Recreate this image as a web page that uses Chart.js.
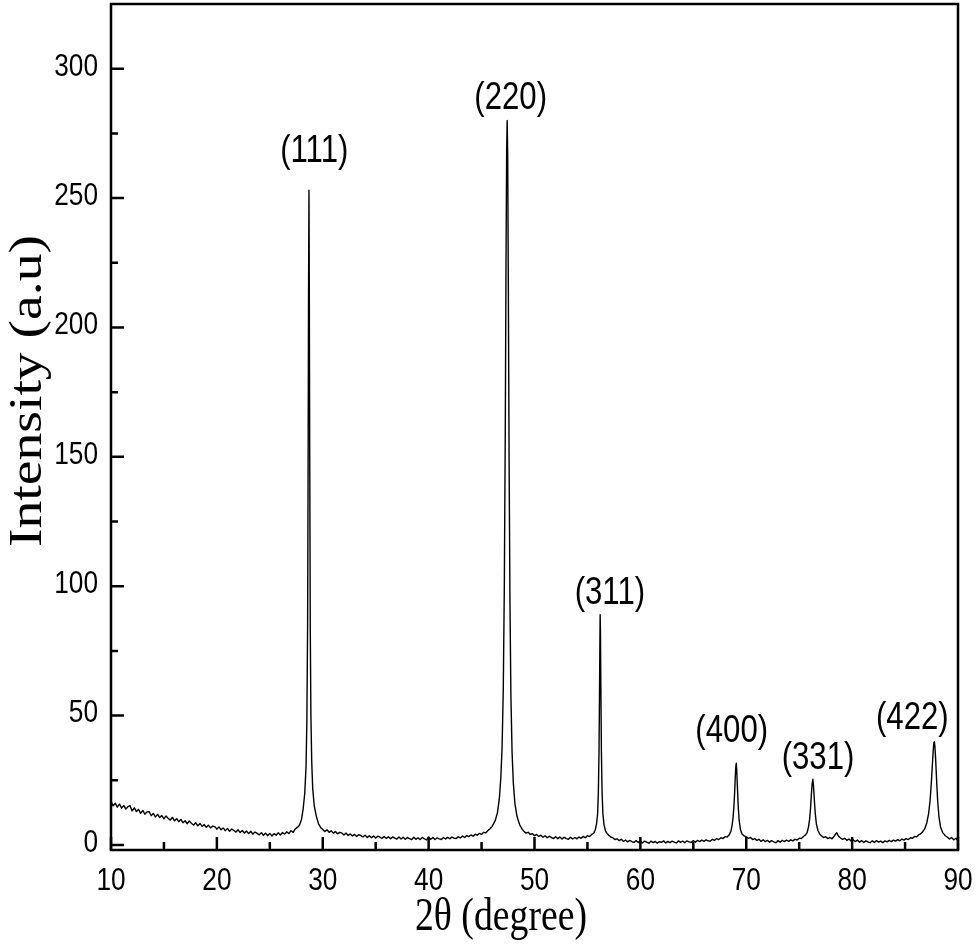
<!DOCTYPE html>
<html>
<head>
<meta charset="utf-8">
<script src="https://cdn.jsdelivr.net/npm/chart.js@4.4.1/dist/chart.umd.min.js"></script>
<style>
html,body{margin:0;padding:0;background:#fff;}
#wrap{width:977px;height:950px;}
</style>
</head>
<body>
<div id="wrap"><canvas id="c" width="977" height="950"></canvas></div>
<script>
// ---- data (2theta in degrees, intensity in a.u.) ----
const scan = [
[10.0,16.9],[10.2,15.1],[10.4,16.2],[10.6,14.6],[10.8,15.9],[11.0,14.2],[11.2,15.3],[11.4,13.9],[11.6,14.8],[11.8,15.2],
[12.0,13.1],[12.2,14.4],[12.4,12.9],[12.6,13.8],[12.8,12.2],[13.0,13.4],[13.2,11.9],[13.4,12.8],[13.6,12.9],[13.8,11.3],
[14.0,12.2],[14.2,10.8],[14.4,11.9],[14.6,10.6],[14.8,11.4],[15.0,10.1],[15.2,11.2],[15.4,10.3],[15.6,9.6],[15.8,10.7],
[16.0,9.3],[16.2,10.2],[16.4,9.0],[16.6,9.9],[16.8,8.6],[17.0,9.4],[17.2,8.2],[17.4,9.3],[17.6,8.4],[17.8,7.7],
[18.0,8.6],[18.2,7.4],[18.4,8.3],[18.6,7.2],[18.8,7.9],[19.0,6.8],[19.2,7.7],[19.4,6.6],[19.6,7.3],[19.8,7.1],
[20.0,6.1],[20.2,7.0],[20.4,5.9],[20.6,6.6],[20.8,5.5],[21.0,6.4],[21.2,5.3],[21.4,6.2],[21.6,5.6],[21.8,5.0],
[22.0,5.9],[22.2,4.8],[22.4,5.6],[22.6,4.6],[22.8,5.4],[23.0,4.4],[23.2,5.3],[23.4,4.2],[23.6,5.0],[23.8,4.5],
[24.0,3.9],[24.2,4.8],[24.4,3.7],[24.6,4.6],[24.8,3.6],[25.0,4.5],[25.2,3.5],[25.4,4.4],[25.6,3.8],[25.8,4.7],
[26.0,3.9],[26.2,4.8],[26.4,4.2],[26.6,5.1],[26.8,4.4],[27.0,5.5],[27.2,4.9],[27.4,6.2],[27.6,6.8],[27.8,7.6],
// (111)
[28.00,10],[28.15,14],[28.30,20],[28.42,30],[28.50,48],[28.57,85],[28.62,150],[28.66,215],[28.70,253],
[28.73,215],[28.77,150],[28.82,85],[28.88,50],[28.96,32],[29.05,22],[29.20,15],[29.40,11],[29.60,8.2],[29.80,6.8],
[30.0,6.0],[30.2,5.2],[30.4,5.9],[30.6,4.9],[30.8,5.5],[31.0,4.6],[31.2,5.2],[31.4,4.3],[31.6,4.9],[31.8,4.6],
[32.0,3.9],[32.2,4.6],[32.4,3.7],[32.6,4.3],[32.8,3.5],[33.0,4.1],[33.2,3.3],[33.4,4.0],[33.6,3.6],[33.8,3.1],
[34.0,3.8],[34.2,2.9],[34.4,3.6],[34.6,2.8],[34.8,3.5],[35.0,2.7],[35.2,3.4],[35.4,3.0],[35.6,2.6],[35.8,3.3],
[36.0,2.5],[36.2,3.2],[36.4,2.4],[36.6,3.1],[36.8,2.7],[37.0,2.3],[37.2,3.1],[37.4,2.3],[37.6,3.0],[37.8,2.2],
[38.0,2.9],[38.2,2.5],[38.4,2.1],[38.6,3.0],[38.8,2.2],[39.0,2.8],[39.2,2.1],[39.4,2.9],[39.6,2.4],[39.8,2.0],
[40.0,3.1],[40.2,2.2],[40.4,2.9],[40.6,2.1],[40.8,2.8],[41.0,2.4],[41.2,2.1],[41.4,2.9],[41.6,2.3],[41.8,3.0],
[42.0,2.4],[42.2,3.1],[42.4,2.6],[42.6,2.5],[42.8,3.2],[43.0,2.7],[43.2,3.5],[43.4,2.9],[43.6,3.7],[43.8,3.2],
[44.0,3.9],[44.2,3.4],[44.4,4.2],[44.6,3.8],[44.8,4.5],[45.0,4.1],[45.2,4.9],[45.4,4.7],[45.6,5.6],[45.8,6.3],
// (220)
[46.00,7.2],[46.30,9.5],[46.50,12.5],[46.68,18],[46.82,26],[46.94,38],[47.05,60],[47.15,100],[47.24,160],
[47.31,225],[47.37,268],[47.42,280],[47.47,266],[47.53,215],[47.60,150],[47.68,95],[47.77,58],[47.88,36],
[48.00,24],[48.15,16],[48.35,11],[48.60,7.8],[48.85,6.0],
[49.0,5.3],[49.2,4.6],[49.4,4.9],[49.6,4.1],[49.8,4.4],[50.0,3.6],[50.2,4.1],[50.4,3.3],[50.6,3.8],[50.8,3.0],
[51.0,3.6],[51.2,2.8],[51.4,3.4],[51.6,2.9],[51.8,2.5],[52.0,3.2],[52.2,2.4],[52.4,3.1],[52.6,2.3],[52.8,3.0],
[53.0,2.5],[53.2,2.2],[53.4,3.0],[53.6,2.3],[53.8,2.9],[54.0,2.4],[54.2,3.1],[54.4,2.6],[54.6,3.3],[54.8,2.8],
[55.0,3.6],[55.2,3.3],[55.4,4.1],[55.6,4.6],
// (311)
[55.75,6],[55.87,8.5],[55.96,12],[56.03,20],[56.09,35],[56.14,58],[56.18,80],[56.20,89],[56.23,82],
[56.27,60],[56.32,36],[56.38,21],[56.46,12],[56.56,8],[56.70,5.5],[56.85,4.5],
[57.0,3.8],[57.2,3.1],[57.4,2.8],[57.6,2.1],[57.8,2.4],[58.0,1.7],[58.2,2.2],[58.4,1.4],[58.6,1.9],[58.8,1.2],
[59.0,1.8],[59.2,1.3],[59.4,1.0],[59.6,1.7],[59.8,1.0],[60.0,1.6],[60.2,0.8],[60.4,1.5],[60.6,1.1],[60.8,0.7],
[61.0,1.5],[61.2,0.9],[61.4,1.4],[61.6,0.7],[61.8,1.3],[62.0,1.0],[62.2,1.6],[62.4,0.8],[62.6,1.4],[62.8,0.9],
[63.0,1.5],[63.2,1.1],[63.4,0.8],[63.6,1.6],[63.8,1.0],[64.0,1.5],[64.2,0.9],[64.4,1.6],[64.6,1.2],[64.8,1.0],
[65.0,1.7],[65.2,1.1],[65.4,1.8],[65.6,1.3],[65.8,1.9],[66.0,1.4],[66.2,2.0],[66.4,1.6],[66.6,1.5],[66.8,2.2],
[67.0,1.8],[67.2,2.5],[67.4,2.1],[67.6,2.8],[67.8,2.5],[68.0,3.2],[68.2,3.1],[68.4,4.0],
// (400)
[68.55,5.3],[68.66,7.5],[68.75,10.5],[68.83,14.5],[68.90,20],[68.96,26],[69.02,30.5],[69.06,31.6],[69.10,29],
[69.16,23],[69.24,15],[69.33,9.5],[69.45,6],[69.60,4.3],[69.80,3.5],
[70.0,3.2],[70.2,2.6],[70.4,2.9],[70.6,2.1],[70.8,2.5],[71.0,1.8],[71.2,2.2],[71.4,1.4],[71.6,2.0],[71.8,1.3],
[72.0,1.8],[72.2,1.1],[72.4,1.7],[72.6,1.2],[72.8,0.9],[73.0,1.7],[73.2,1.1],[73.4,1.8],[73.6,1.3],[73.8,1.9],
[74.0,1.4],[74.2,2.0],[74.4,1.6],[74.6,2.2],[74.8,1.9],[75.0,2.6],[75.2,2.5],[75.4,3.3],[75.6,3.9],
// (331)
[75.75,4.8],[75.87,6.8],[75.98,9.8],[76.07,14],[76.15,19.5],[76.22,23.5],[76.29,25.4],[76.35,23],
[76.43,17.5],[76.52,12],[76.63,8],[76.78,5.5],[76.95,4.2],
[77.1,3.6],[77.3,2.9],[77.5,3.2],[77.7,2.5],[77.9,2.9],[78.1,2.4],[78.3,3.4],[78.45,4.3],[78.55,4.7],[78.7,3.5],
[78.9,2.7],[79.1,2.2],[79.3,2.6],[79.5,1.8],[79.7,2.3],[79.9,1.5],[80.1,2.0],[80.3,1.3],[80.5,1.9],[80.7,1.1],
[80.9,1.7],[81.1,1.0],[81.3,1.6],[81.5,1.2],[81.7,0.9],[81.9,1.6],[82.1,1.0],[82.3,1.7],[82.5,1.1],[82.7,1.5],
[82.9,0.9],[83.1,1.6],[83.3,1.2],[83.5,1.8],[83.7,1.3],[83.9,1.9],[84.1,1.5],[84.3,2.1],[84.5,1.6],[84.7,2.3],
[84.9,1.9],[85.1,2.5],[85.3,2.1],[85.5,2.8],[85.7,2.6],[85.9,3.3],[86.1,3.2],[86.3,4.0],[86.45,4.3],
// (422)
[86.60,4.8],[86.85,6.2],[87.05,8.5],[87.22,12],[87.36,17],[87.48,24],[87.58,31],[87.66,36.5],[87.72,39.5],
[87.77,39.9],[87.82,38],[87.89,33],[87.98,25],[88.08,17],[88.20,11],[88.35,7],[88.55,4.8],
[88.8,3.6],[89.0,3.0],[89.2,2.3],[89.4,2.9],[89.6,2.0],[89.8,2.6],[90.0,1.6]
];

// peak labels (Miller indices) and their anchor positions in data units
const peakLabels = ['(111)','(220)','(311)','(400)','(331)','(422)'];
const peakLabelX = [29.2, 47.75, 57.12, 68.63, 76.78, 85.69];
const peakLabelY = [268, 288.5, 97, 43.7, 33.6, 48.7];

// axis ticks
const xMajorTicks = [10,20,30,40,50,60,70,80,90];
const xMinorTicks = [15,25,35,45,55,65,75,85];
const yMajorTicks = [0,50,100,150,200,250,300];
const yMinorTicks = [25,75,125,175,225,275];
const xTitle = '2θ (degree)';
const yTitle = 'Intensity (a.u)';

const SANS = "'Liberation Sans', Arial, sans-serif";
const SERIF = "'Liberation Serif', 'Times New Roman', serif";
const NARROW_FACTOR = 0.82;

function narrowText(ctx, text, x, y, size, align) {
  ctx.save();
  ctx.font = size + 'px ' + SANS;
  ctx.textAlign = align;
  ctx.textBaseline = 'middle';
  ctx.translate(x, y);
  ctx.scale(NARROW_FACTOR, 1);
  ctx.fillText(text, 0, 0);
  ctx.restore();
}

const decor = {
  id: 'decor',
  afterDraw(chart) {
    const ctx = chart.ctx;
    const a = chart.chartArea;
    const xs = chart.scales.x, ys = chart.scales.y;
    ctx.save();
    ctx.strokeStyle = '#000';
    ctx.fillStyle = '#000';
    ctx.lineWidth = 2.5;
    ctx.lineCap = 'butt';
    ctx.strokeRect(a.left, a.top, a.right - a.left, a.bottom - a.top);
    ctx.beginPath();
    yMajorTicks.forEach(v => { const p = ys.getPixelForValue(v); ctx.moveTo(a.left, p); ctx.lineTo(a.left + 13, p); });
    yMinorTicks.forEach(v => { const p = ys.getPixelForValue(v); ctx.moveTo(a.left, p); ctx.lineTo(a.left + 7, p); });
    xMajorTicks.forEach(v => { const p = xs.getPixelForValue(v); ctx.moveTo(p, a.bottom); ctx.lineTo(p, a.bottom - 13); });
    xMinorTicks.forEach(v => { const p = xs.getPixelForValue(v); ctx.moveTo(p, a.bottom); ctx.lineTo(p, a.bottom - 8); });
    ctx.stroke();

    // tick labels
    yMajorTicks.forEach(v => narrowText(ctx, String(v), a.left - 13, ys.getPixelForValue(v) - 2, 32, 'right'));
    xMajorTicks.forEach(v => narrowText(ctx, String(v), xs.getPixelForValue(v), a.bottom + 31, 32, 'center'));

    // peak labels
    peakLabels.forEach((t, i) => {
      narrowText(ctx, t, xs.getPixelForValue(peakLabelX[i]), ys.getPixelForValue(peakLabelY[i]), 38, 'center');
    });

    // x title
    ctx.font = '46px ' + SERIF;
    ctx.textAlign = 'center';
    ctx.textBaseline = 'alphabetic';
    let w = ctx.measureText(xTitle).width;
    ctx.save();
    ctx.translate(501, 930);
    ctx.scale(172 / w, 1);
    ctx.fillText(xTitle, 0, 0);
    ctx.restore();

    // y title
    w = ctx.measureText(yTitle).width;
    ctx.save();
    ctx.translate(41, 391);
    ctx.rotate(-Math.PI / 2);
    ctx.scale(312 / w, 1);
    ctx.fillText(yTitle, 0, 0);
    ctx.restore();
    ctx.restore();
  }
};

function fixBox(s, prop, size) {
  s[prop] = size;
  s.paddingLeft = 0; s.paddingRight = 0; s.paddingTop = 0; s.paddingBottom = 0;
}

new Chart(document.getElementById('c'), {
  type: 'line',
  data: {
    datasets: [{
      data: scan.map(p => ({x: p[0], y: p[1]})),
      borderColor: '#000',
      borderWidth: 1.4,
      borderJoinStyle: 'round',
      borderCapStyle: 'round',
      pointRadius: 0,
      tension: 0.001,
      fill: false
    }]
  },
  options: {
    responsive: false,
    animation: false,
    devicePixelRatio: 1,
    layout: { padding: { top: 4, right: 19, left: 0, bottom: 0 } },
    plugins: { legend: { display: false }, tooltip: { enabled: false } },
    scales: {
      x: {
        type: 'linear', min: 10, max: 90,
        grid: { display: false, drawTicks: false },
        border: { display: false },
        afterBuildTicks: s => { s.ticks = xMajorTicks.map(v => ({value: v})); },
        afterFit: s => fixBox(s, 'height', 100),
        ticks: { display: false }
      },
      y: {
        type: 'linear', min: -1.93, max: 325,
        grid: { display: false, drawTicks: false },
        border: { display: false },
        afterBuildTicks: s => { s.ticks = yMajorTicks.map(v => ({value: v})); },
        afterFit: s => fixBox(s, 'width', 111),
        ticks: { display: false }
      }
    }
  },
  plugins: [decor]
});
</script>
</body>
</html>
